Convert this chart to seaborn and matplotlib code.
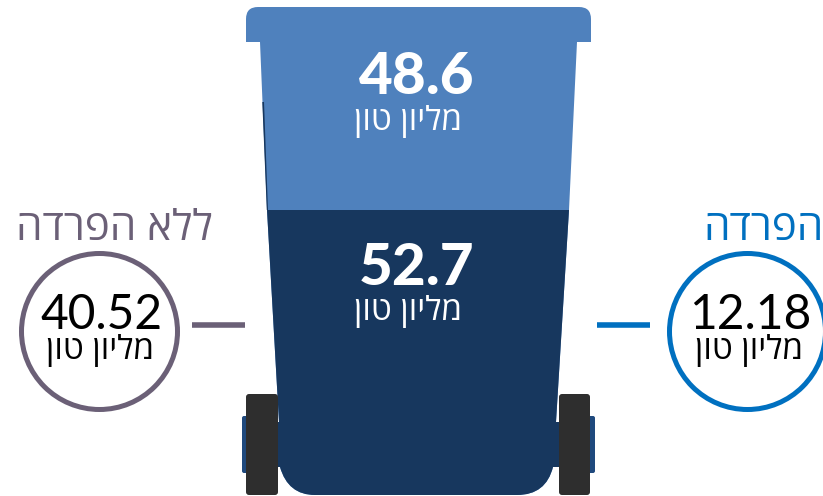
import matplotlib
matplotlib.use("Agg")
import matplotlib.pyplot as plt
import seaborn as sns
import pandas as pd
from matplotlib.path import Path
from matplotlib.patches import Circle, FancyBboxPatch, PathPatch

# Waste quantities, in million tons
upper_value = 48.6
lower_value = 52.7
unsorted_value = 40.52
sorted_value = 12.18

unit_label = "מליון טון"
unsorted_label = "ללא הפרדה"
sorted_label = "הפרדה"

LIGHT_BLUE = "#4F81BD"
NAVY = "#17375E"
MAUVE = "#6B6077"
BRIGHT_BLUE = "#0070C0"
WHEEL = "#2E2E2E"
AXLE = "#1F497D"

WIDTH, HEIGHT = 823, 496
HEBREW = ["Open Sans", "Liberation Sans", "DejaVu Sans"]
NUMERIC = ["Lato", "DejaVu Sans"]


def visual(text):
    # matplotlib lays glyphs out left to right, so RTL strings are flipped
    return text[::-1]


sns.set_theme(style="white")
fig = plt.figure(figsize=(WIDTH / 100, HEIGHT / 100), dpi=100, facecolor="white")

# Pixel-aligned overlay for the bin's hardware, the circles and the text
overlay = fig.add_axes([0, 0, 1, 1], zorder=2)
overlay.set_xlim(0, WIDTH)
overlay.set_ylim(HEIGHT, 0)
overlay.axis("off")
overlay.patch.set_alpha(0)

# Bin silhouette, used as the clip for the stacked bar
verts = [
    (Path.MOVETO, (246, 42)), (Path.LINETO, (246, 19)),
    (Path.CURVE3, (246, 7)), (Path.CURVE3, (258, 7)),
    (Path.LINETO, (579, 7)),
    (Path.CURVE3, (591, 7)), (Path.CURVE3, (591, 19)),
    (Path.LINETO, (591, 42)), (Path.LINETO, (577, 42)),
    (Path.LINETO, (569, 210)), (Path.LINETO, (556, 422)),
    (Path.LINETO, (560, 422)), (Path.LINETO, (560, 467)),
    (Path.LINETO, (553, 467)),
    (Path.CURVE3, (546, 495)), (Path.CURVE3, (517, 495)),
    (Path.LINETO, (315, 495)),
    (Path.CURVE3, (288, 495)), (Path.CURVE3, (280, 467)),
    (Path.LINETO, (276, 467)), (Path.LINETO, (276, 422)),
    (Path.LINETO, (279, 422)), (Path.LINETO, (267, 210)),
    (Path.LINETO, (260, 42)), (Path.CLOSEPOLY, (246, 42)),
]
codes, points = zip(*verts)
bin_path = Path(points, codes)

# Bars share a linear scale: 0 at the bin's base, the split at the lower value
base_px, split_px = 495, 210
px_per_unit = (base_px - split_px) / lower_value
bar_ax = fig.add_axes([240 / WIDTH, 0, 360 / WIDTH, 1], zorder=1)
frame = pd.DataFrame({
    "bin": ["bin"],
    "upper": [upper_value + lower_value],
    "lower": [lower_value],
})
sns.barplot(data=frame, x="bin", y="upper", color=LIGHT_BLUE, width=1,
            saturation=1, linewidth=0, ax=bar_ax)
sns.barplot(data=frame, x="bin", y="lower", color=NAVY, width=1,
            saturation=1, linewidth=0, ax=bar_ax)
bar_ax.set_xlim(-0.5, 0.5)
bar_ax.set_ylim((base_px - HEIGHT) / px_per_unit, base_px / px_per_unit)
bar_ax.axis("off")
for bar in bar_ax.patches:
    bar.set_edgecolor("none")
    bar.set_clip_path(bin_path, transform=overlay.transData)

# Thin dark sliver along the upper left wall
overlay.add_patch(PathPatch(Path([(262.3, 102), (264, 102), (268, 210), (266.8, 210), (262.3, 102)]),
                            facecolor=NAVY, edgecolor="none"))

# Axle stubs and wheels
for x0, w in [(241, 37), (559, 37)]:
    overlay.add_patch(FancyBboxPatch((x0 + 1, 416), w - 2, 57, boxstyle="round,pad=0,rounding_size=2",
                                     facecolor=AXLE, edgecolor="none"))
for x0, w in [(246, 32), (559, 31)]:
    overlay.add_patch(FancyBboxPatch((x0 + 1, 395), w - 2, 99, boxstyle="round,pad=1,rounding_size=3",
                                     facecolor=WHEEL, edgecolor="none"))

# Value labels on the bin
for value, base_y, unit_y, cx in [(upper_value, 94, 130, 417), (lower_value, 285, 320, 417)]:
    overlay.text(cx, base_y, f"{value}", color="white", fontsize=42, fontweight=900,
                 family=NUMERIC, ha="center", va="baseline")
    overlay.text(408.5, unit_y, visual(unit_label), color="white", fontsize=24,
                 family=HEBREW, ha="center", va="baseline")

# Side callouts: circle, connector, heading, value
callouts = [
    (99.5, unsorted_value, unsorted_label, MAUVE, (192, 245), 114.5, 100),
    (747.5, sorted_value, sorted_label, BRIGHT_BLUE, (597, 650), 764, 749),
]
for cx, value, heading, colour, span, head_x, unit_x in callouts:
    overlay.add_patch(Circle((cx, 331.5), 78, facecolor="white", edgecolor=colour,
                             linewidth=3.6, clip_on=True))
    overlay.plot(span, [325, 325], color=colour, linewidth=4.0, solid_capstyle="butt")
    overlay.text(head_x, 240, visual(heading), color=colour, fontsize=30.3,
                 family=HEBREW, ha="center", va="baseline")
    overlay.text(unit_x + 1, 329, f"{value}", color="black", fontsize=34.5,
                 family=NUMERIC, ha="center", va="baseline")
    overlay.text(unit_x, 359, visual(unit_label), color="black", fontsize=24,
                 family=HEBREW, ha="center", va="baseline")

fig.savefig("out.png", dpi=100, facecolor="white")
